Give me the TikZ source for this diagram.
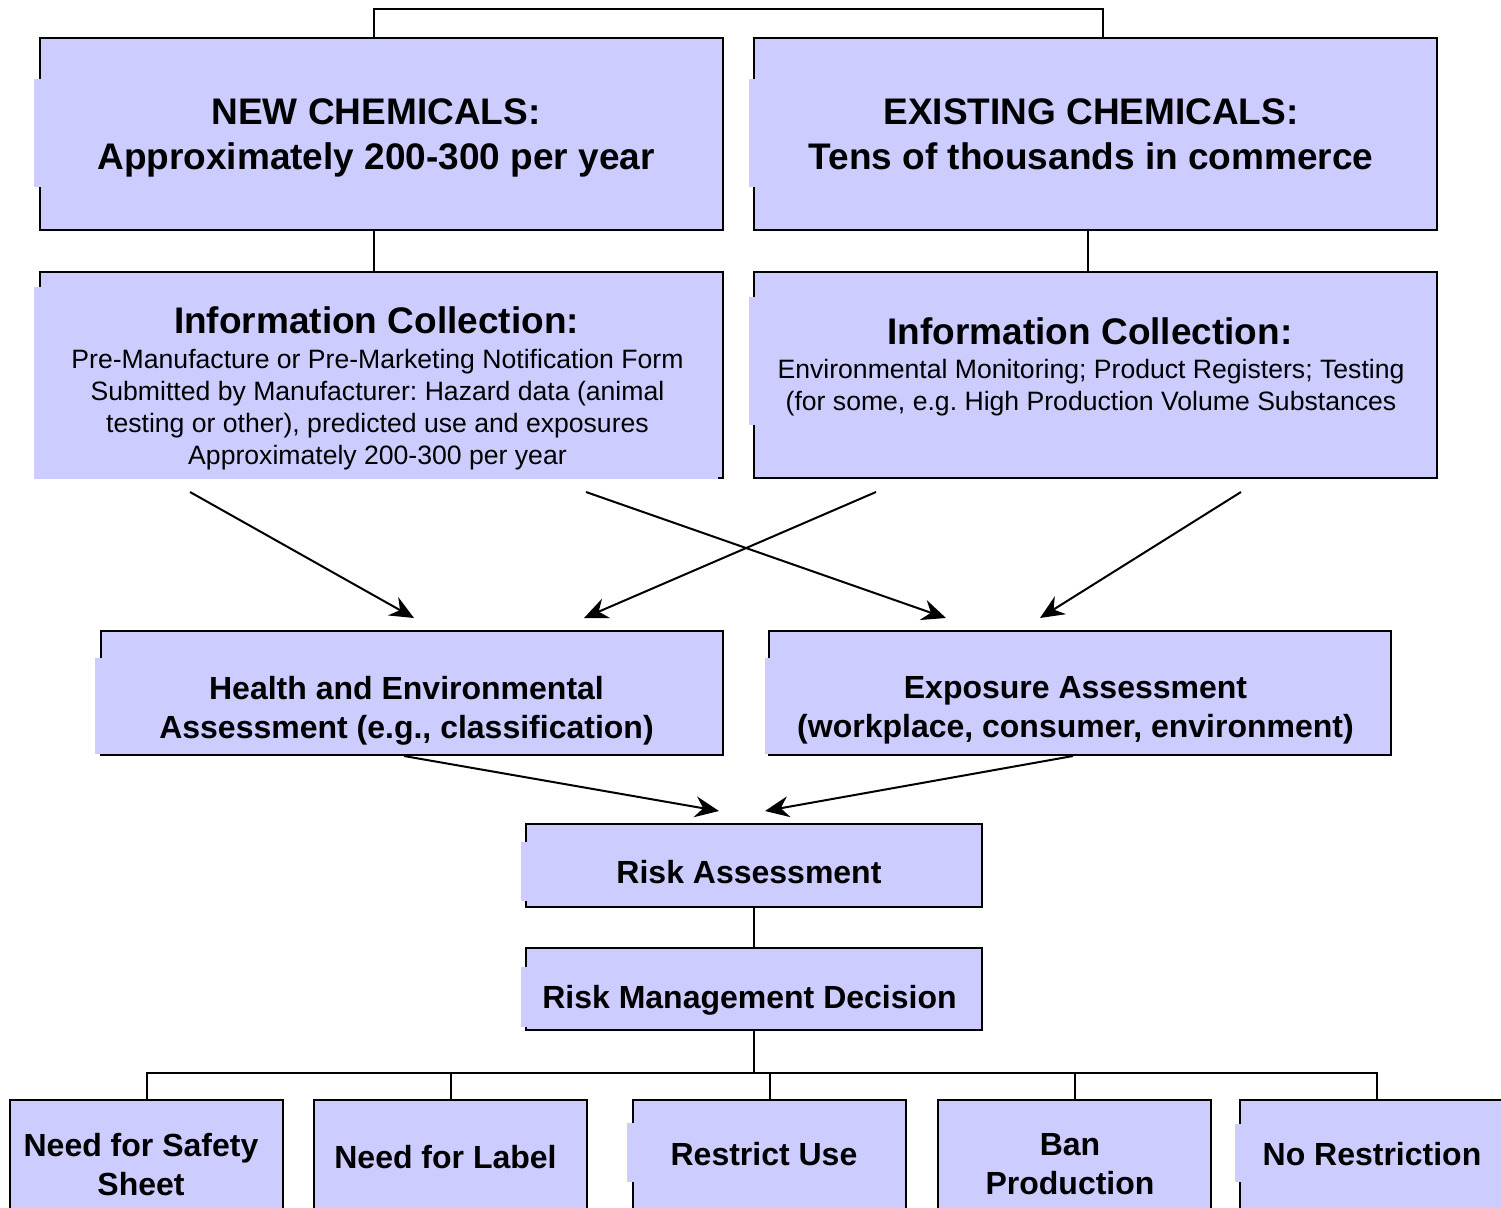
\documentclass[tikz,border=0pt]{standalone}
\usepackage{fontspec}
\setmainfont{Liberation Sans}
\usetikzlibrary{arrows.meta}
\usepackage{xcolor}
\frenchspacing

\definecolor{boxblue}{RGB}{204,204,255}

\tikzset{
  chembox/.style={draw=black, line width=2pt, fill=boxblue, inner sep=0pt},
  patch/.style={fill=boxblue},
  link/.style={line width=2pt},
  flow/.style={line width=2pt, -{Stealth[length=24pt,width=21pt,inset=8pt]}},
  bigtxt/.style={font=\fontsize{37}{45}\selectfont\bfseries, align=center, inner sep=0pt},
  midtxt/.style={font=\fontsize{32}{39}\selectfont\bfseries, align=center, inner sep=0pt},
  smalltxt/.style={font=\fontsize{26.6}{32}\selectfont, align=center, inner sep=0pt},
}

\begin{document}
\begin{tikzpicture}[x=1pt, y=-1pt]
\useasboundingbox (0,0) rectangle (1501,1207);
\clip (0,0) rectangle (1501,1207);

% top row
\node[chembox, minimum width=683pt, minimum height=192pt] (newchem) at (381.5,134) {};
\node[chembox, minimum width=683pt, minimum height=192pt] (existing) at (1095.5,134) {};
\fill[patch] (34,79) rectangle (718,187);
\fill[patch] (749,79) rectangle (1432,187);

\node[bigtxt] (newchem-t) at (376,138) {NEW CHEMICALS:\\Approximately 200-300 per year};
\node[bigtxt] (existing-t) at (1091,134.5) {EXISTING CHEMICALS:\\Tens of thousands in commerce};

\draw[link] ([xshift=-7.5pt]newchem.north) -- ++(0,-28) -| ([xshift=7.5pt]existing.north);

% information collection
\node[chembox, minimum width=683pt, minimum height=206pt] (infonew) at (381.5,375) {};
\node[chembox, minimum width=683pt, minimum height=206pt] (infoex) at (1095.5,375) {};
\fill[patch] (34,287) rectangle (718,479);
\fill[patch] (749,297) rectangle (1432,425);

\node[bigtxt] (infonew-t) at (376.5,320) {Information Collection:};
\node[smalltxt] (infonew-b) at (377.5,409.5) {Pre-Manufacture or Pre-Marketing Notification Form\\Submitted by Manufacturer: Hazard data (animal\\testing or other), predicted use and exposures\\Approximately 200-300 per year};
\node[bigtxt] (infoex-t) at (1090,331) {Information Collection:};
\node[smalltxt] (infoex-b) at (1091,388) {Environmental Monitoring; Product Registers; Testing\\(for some, e.g. High Production Volume Substances};

\draw[link] ([xshift=-7.5pt]newchem.south) -- ([xshift=-7.5pt]infonew.north);
\draw[link] ([xshift=-7.5pt]existing.south) -- ([xshift=-7.5pt]infoex.north);

% assessments
\node[chembox, minimum width=622pt, minimum height=124pt] (health) at (412,693) {};
\node[chembox, minimum width=622pt, minimum height=124pt] (exposure) at (1080,693) {};
\fill[patch] (95,658) rectangle (718,754);
\fill[patch] (765,658) rectangle (1386,754);

\node[midtxt] (health-t) at (406.5,710.6) {Health and Environmental\\Assessment (e.g., classification)};
\node[midtxt] (exposure-t) at (1075.5,710.6) {Exposure Assessment\\(workplace, consumer, environment)};

\coordinate (a1) at (190,492);
\coordinate (a2) at (586,492);
\coordinate (a3) at (876,492);
\coordinate (a4) at (1241,492);
\coordinate (h1) at (414,618);
\coordinate (h2) at (584,618);
\coordinate (e1) at (946,618);
\coordinate (e2) at (1040,618);
\draw[flow] (a1) -- (h1);
\draw[flow] (a2) -- (e1);
\draw[flow] (a3) -- (h2);
\draw[flow] (a4) -- (e2);

% risk
\node[chembox, minimum width=456pt, minimum height=83pt] (riskass) at (754,865.5) {};
\node[chembox, minimum width=456pt, minimum height=82pt] (riskmgmt) at (754,989) {};
\fill[patch] (521,842) rectangle (977,901);
\fill[patch] (521,967) rectangle (977,1027);

\node[midtxt] (riskass-t) at (749,872) {Risk Assessment};
\node[midtxt] (riskmgmt-t) at (749.5,1000.2) {Risk Management Decision};

\coordinate (r1) at (719,811);
\coordinate (r2) at (765,811);
\draw[flow] ([xshift=-8pt]health.south) -- (r1);
\draw[flow] ([xshift=-7pt]exposure.south) -- (r2);
\draw[link] (riskass.south) -- (riskmgmt.north);

% decisions
\node[chembox, minimum width=273pt, minimum height=140pt] (safety) at (146.5,1170) {};
\node[chembox, minimum width=273pt, minimum height=140pt] (label) at (450.5,1170) {};
\node[chembox, minimum width=273pt, minimum height=140pt] (restrict) at (769.5,1170) {};
\node[chembox, minimum width=273pt, minimum height=140pt] (ban) at (1074.5,1170) {};
\node[chembox, minimum width=273pt, minimum height=140pt] (norestr) at (1376.5,1170) {};
\fill[patch] (627,1123) rectangle (901,1182);
\fill[patch] (1235,1124) rectangle (1501,1182);

\node[midtxt] (safety-t) at (141,1164.3) {Need for Safety\\Sheet};
\node[midtxt] (label-t) at (445.5,1157) {Need for Label};
\node[midtxt] (restrict-t) at (764,1154) {Restrict Use};
\node[midtxt] (ban-t) at (1070,1164.3) {Ban\\Production};
\node[midtxt] (norestr-t) at (1372,1154) {No Restriction};

\draw[link] (riskmgmt.south) -- ++(0,42) coordinate (hub);
\foreach \b in {safety,label,restrict,ban,norestr}
  \draw[link] (hub) -| (\b.north);

\end{tikzpicture}
\end{document}
